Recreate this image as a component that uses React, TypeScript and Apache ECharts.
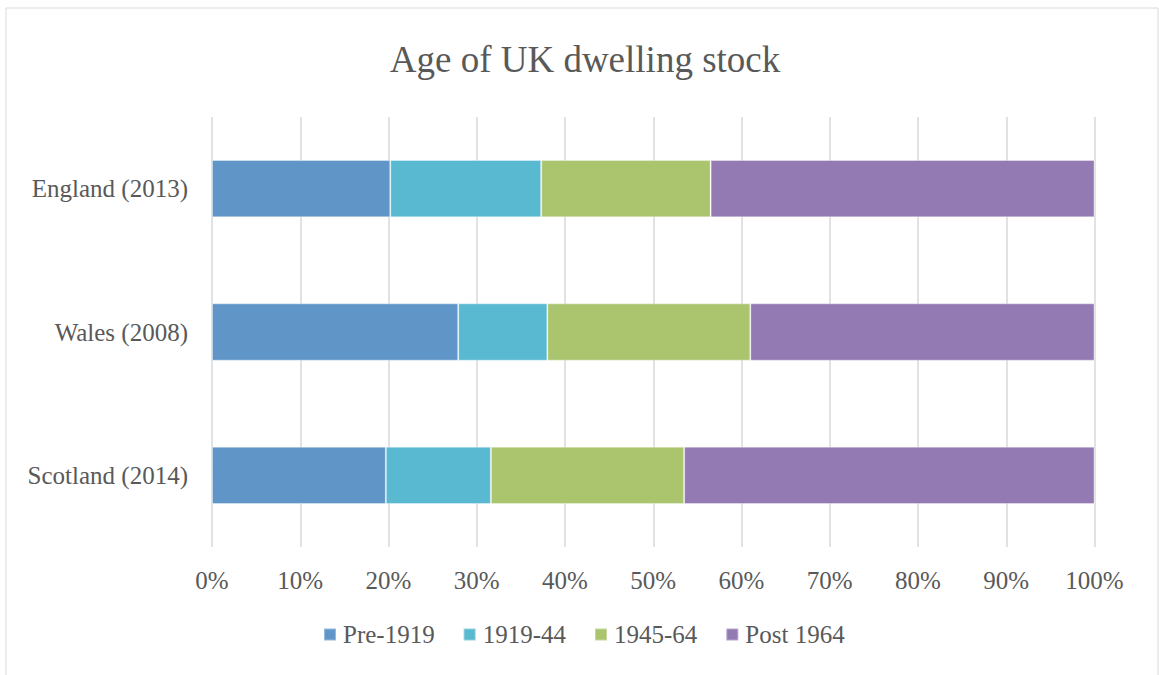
import React, { useEffect, useRef } from "react";
import * as echarts from "echarts";

const categories = ["Scotland (2014)", "Wales (2008)", "England (2013)"];
const seriesNames = ["Pre-1919", "1919-44", "1945-64", "Post 1964"];
const pre1919 = [19.7, 27.9, 20.2];
const y1919_44 = [11.9, 10.1, 17.1];
const y1945_64 = [21.9, 23.0, 19.2];
const post1964 = [46.5, 39.0, 43.5];
const colors = ["#6096C7", "#58B9D0", "#ABC46E", "#937AB2"];

const FONT = "'Liberation Serif', serif";
const TEXT = "#595959";

export default function App() {
  const ref = useRef<HTMLDivElement>(null);
  useEffect(() => {
    if (!ref.current) return;
    const chart = echarts.init(ref.current, null, { renderer: "svg" });
    const values = [pre1919, y1919_44, y1945_64, post1964];
    chart.setOption({
      animation: false,
      backgroundColor: "#ffffff",
      textStyle: { fontFamily: FONT, color: TEXT },
      title: {
        text: "Age of UK dwelling stock",
        left: 580,
        textAlign: "center",
        top: 36,
        textStyle: { fontFamily: FONT, fontSize: 37, fontWeight: "normal", color: TEXT },
      },
      graphic: [
        {
          type: "rect",
          shape: { x: 6, y: 8, width: 1152, height: 720 },
          style: { fill: "none", stroke: "#d9d9d9", lineWidth: 1 },
          silent: true,
          z: -1,
        },
      ],
      legend: {
        left: 323,
        top: 622,
        padding: 0,
        itemWidth: 12,
        itemHeight: 12,
        itemGap: 28,
        icon: "rect",
        textStyle: { fontFamily: FONT, fontSize: 25, color: TEXT, padding: [0, 0, 0, 2] },
        data: seriesNames,
      },
      grid: { left: 212, right: 64.5, top: 117, height: 430, containLabel: false },
      xAxis: {
        type: "value",
        min: 0,
        max: 100,
        interval: 10,
        axisLine: { show: false },
        axisTick: { show: false },
        splitLine: { show: true, lineStyle: { color: "#d9d9d9", width: 1.5 } },
        axisLabel: {
          formatter: "{value}%",
          fontFamily: FONT,
          fontSize: 25,
          color: TEXT,
          margin: 21,
        },
      },
      yAxis: {
        type: "category",
        data: categories,
        axisLine: { show: false },
        axisTick: { show: false },
        axisLabel: { fontFamily: FONT, fontSize: 25, color: TEXT, margin: 24 },
      },
      series: seriesNames.map((name, i) => ({
        name,
        type: "bar",
        stack: "total",
        barWidth: "40%",
        data: values[i],
        itemStyle: {
          color: colors[i],
          borderColor: "rgba(255,255,255,0.35)",
          borderWidth: 1,
        },
      })),
    });
    return () => chart.dispose();
  }, []);
  return (
    <div
      ref={ref}
      style={{ position: "fixed", left: 0, top: 0, width: 1159, height: 675 }}
    />
  );
}
